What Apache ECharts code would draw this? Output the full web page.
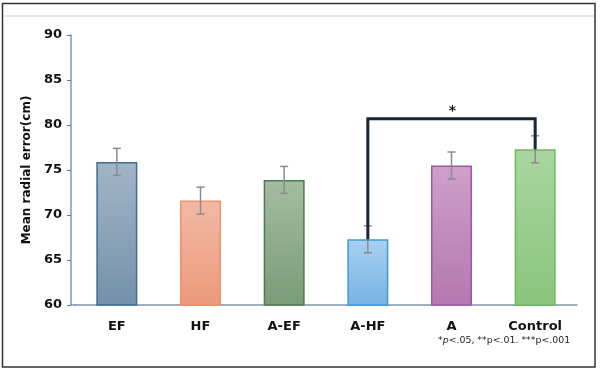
<!DOCTYPE html>
<html><head><meta charset="utf-8">
<script src="https://cdn.jsdelivr.net/npm/echarts@6/dist/echarts.min.js"></script>
<style>html,body{margin:0;padding:0;background:#fff}#c{width:600px;height:371px}</style>
</head><body><div id="c"></div>
<script>
const categories = ['EF', 'HF', 'A-EF', 'A-HF', 'A', 'Control'];
const means = [75.9, 71.6, 73.9, 67.3, 75.5, 77.3];
const errors = [1.5, 1.5, 1.5, 1.5, 1.5, 1.5];
const yTicks = [60, 65, 70, 75, 80, 85, 90];
const bracket = { from: 3, to: 5, top: 80.7, label: '*' };
const footnote = '*p<.05, **p<.01. ***p<.001';

const topColors = ['#a2b5c7', '#f2b9a5', '#a4bca0', '#a8d0f0', '#cda0ca', '#aad5a0'];
const botColors = ['#7391aa', '#ec997a', '#7a9c77', '#78b3e2', '#b577b0', '#8ac47c'];
const borders = ['#3f6b92', '#f0916a', '#4d7c4b', '#3d9ad9', '#a554a6', '#6bbb5b'];

const chart = echarts.init(document.getElementById('c'));
const font = 'DejaVu Sans, Verdana, sans-serif';

chart.setOption({
  animation: false,
  grid: { left: 75, right: 23, top: 35, bottom: 66 },
  xAxis: {
    type: 'category', data: categories,
    axisLine: { lineStyle: { color: '#7d97b3', width: 1.5 } },
    axisTick: { alignWithLabel: true, length: 4, lineStyle: { color: '#5d7d9c' } },
    axisLabel: { margin: 15, fontFamily: font, fontWeight: 'bold', fontSize: 13, color: '#111' }
  },
  yAxis: {
    type: 'value', min: yTicks[0], max: yTicks[yTicks.length - 1], interval: 5,
    offset: 4,
    name: 'Mean radial error(cm)', nameLocation: 'middle', nameGap: 35,
    nameTextStyle: { fontFamily: font, fontWeight: 'bold', fontSize: 12, color: '#111' },
    axisLine: { show: true, lineStyle: { color: '#7d97b3', width: 1.5 } },
    axisTick: { show: true, length: 4, lineStyle: { color: '#5d7d9c' } },
    splitLine: { show: false },
    axisLabel: { margin: 9, fontFamily: font, fontWeight: 'bold', fontSize: 13, color: '#111' }
  },
  series: [
    {
      type: 'bar', barWidth: 41,
      data: means.map((v, i) => ({
        value: v,
        itemStyle: {
          color: new echarts.graphic.LinearGradient(0, 0, 0, 1, [
            { offset: 0, color: topColors[i] }, { offset: 1, color: botColors[i] }
          ]),
          borderColor: borders[i], borderWidth: 1.5
        }
      }))
    },
    {
      type: 'custom', z: 5,
      data: means.map((v, i) => [i, v - errors[i], v + errors[i]]),
      renderItem: function (params, api) {
        const lo = api.coord([api.value(0), api.value(1)]);
        const hi = api.coord([api.value(0), api.value(2)]);
        const w = 4;
        const st = { stroke: '#8c8c8c', lineWidth: 1.5 };
        return { type: 'group', children: [
          { type: 'line', shape: { x1: hi[0], y1: hi[1], x2: lo[0], y2: lo[1] }, style: st },
          { type: 'line', shape: { x1: hi[0] - w, y1: hi[1], x2: hi[0] + w, y2: hi[1] }, style: st },
          { type: 'line', shape: { x1: lo[0] - w, y1: lo[1], x2: lo[0] + w, y2: lo[1] }, style: st }
        ]};
      }
    },
    {
      type: 'custom', z: 6,
      data: [[bracket.from, bracket.to, means[bracket.from], means[bracket.to], bracket.top]],
      renderItem: function (params, api) {
        const a = api.coord([api.value(0), api.value(2)]);
        const b = api.coord([api.value(1), api.value(3)]);
        const ta = api.coord([api.value(0), api.value(4)]);
        const tb = api.coord([api.value(1), api.value(4)]);
        return { type: 'group', children: [
          { type: 'polyline', shape: { points: [a, ta, tb, b] },
            style: { stroke: '#17263a', lineWidth: 3, fill: null, lineJoin: 'miter' } },
          { type: 'text', x: (ta[0] + tb[0]) / 2 + 1, y: ta[1] - 7,
            style: { text: bracket.label, fontFamily: font, fontWeight: 'bold', fontSize: 14, fill: '#111',
              align: 'center', verticalAlign: 'middle' } }
        ]};
      }
    }
  ],
  graphic: [
    { type: 'rect', shape: { x: 2.5, y: 3.5, width: 592.5, height: 363.5 },
      style: { fill: null, stroke: '#333', lineWidth: 1.5 } },
    { type: 'line', shape: { x1: 3.5, y1: 16, x2: 594, y2: 16 },
      style: { stroke: '#e6e6e6', lineWidth: 2 } },
    { type: 'line', shape: { x1: 70.5, y1: 305, x2: 76, y2: 305 },
      style: { stroke: '#7d97b3', lineWidth: 1.5 } },
    { type: 'text', x: 438, y: 341,
      style: {
        text: '{n|*}{i|p}{n|' + footnote.slice(2) + '}',
        verticalAlign: 'middle',
        rich: {
          n: { fontFamily: font, fontSize: 9.4, fill: '#222' },
          i: { fontFamily: font, fontSize: 9.4, fill: '#222', fontStyle: 'italic' }
        }
      } }
  ]
});
</script></body></html>
